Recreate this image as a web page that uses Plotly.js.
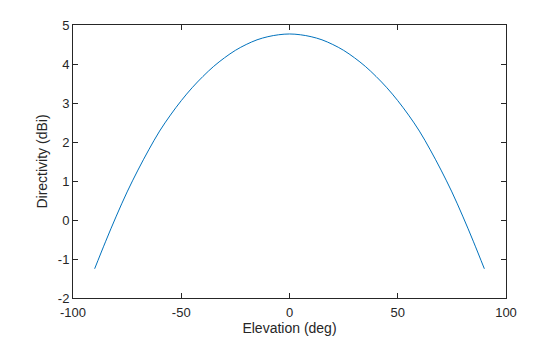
<!DOCTYPE html>
<html>
<head>
<meta charset="utf-8">
<script src="https://cdn.plot.ly/plotly-3.0.1.min.js"></script>
<style>html,body{margin:0;padding:0;background:#fff;}#plot{width:560px;height:337px;}</style>
</head>
<body>
<div id="plot"></div>
<script>
const elevation = [-90,-85,-80,-75,-70,-65,-60,-55,-50,-45,-40,-35,-30,-25,-20,-15,-10,-5,0,5,10,15,20,25,30,35,40,45,50,55,60,65,70,75,80,85,90];
const directivity = [-1.25,-0.56,0.10,0.72,1.28,1.80,2.28,2.69,3.06,3.39,3.68,3.94,4.16,4.35,4.50,4.62,4.70,4.75,4.77,4.75,4.70,4.62,4.50,4.35,4.16,3.94,3.68,3.39,3.06,2.69,2.28,1.80,1.28,0.72,0.10,-0.56,-1.25];
const xTicks = [-100,-50,0,50,100];
const yTicks = [-2,-1,0,1,2,3,4,5];

const FONT = 'Liberation Sans, Arial, sans-serif';
const axisCommon = {
  showgrid:false, zeroline:false, showline:true, linecolor:'#262626', linewidth:1,
  mirror:'ticks', ticks:'inside', ticklen:5, tickwidth:1, tickcolor:'#262626',
  automargin:false,
  tickfont:{family:FONT, size:13, color:'#262626'}
};

Plotly.newPlot('plot', [{
  x: elevation, y: directivity, type:'scatter', mode:'lines',
  line:{color:'#0072BD', width:1, shape:'spline'}
}], {
  width:560, height:337,
  margin:{l:73, r:54, t:25, b:39},
  paper_bgcolor:'#fff', plot_bgcolor:'#fff',
  showlegend:false,
  xaxis: Object.assign({}, axisCommon, {
    range:[-100,100], tickvals:xTicks, ticktext:xTicks.map(String),
    ticklabelstandoff:2,
    title:{text:'Elevation (deg)', font:{family:FONT, size:14, color:'#262626'}, standoff:2}
  }),
  yaxis: Object.assign({}, axisCommon, {
    range:[-2,5], tickvals:yTicks, ticktext:yTicks.map(String),
    title:{text:'Directivity (dBi)', font:{family:FONT, size:14, color:'#262626'}, standoff:6}
  })
}, {staticPlot:true, displayModeBar:false});
</script>
</body>
</html>
